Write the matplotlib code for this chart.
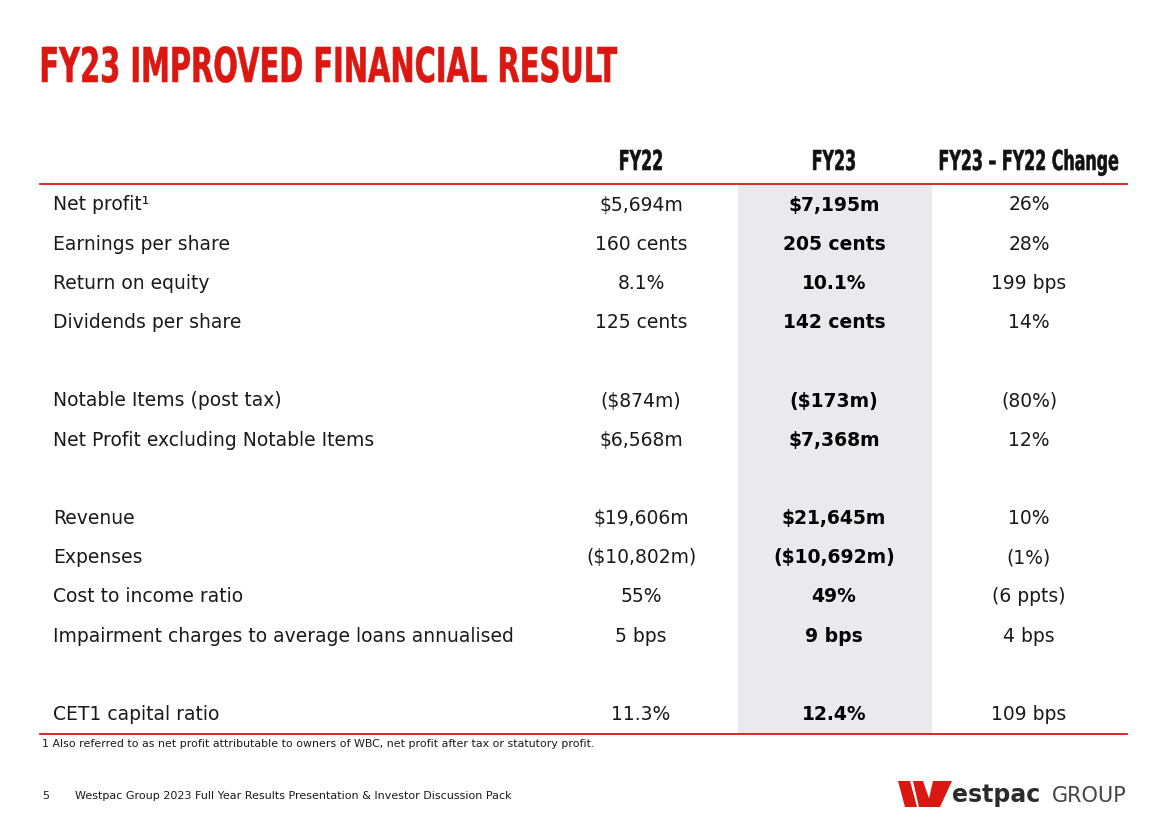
import matplotlib
matplotlib.use("Agg")
import matplotlib.pyplot as plt
from matplotlib.patches import Rectangle, Polygon, PathPatch
from matplotlib.textpath import TextPath
from matplotlib.font_manager import FontProperties
from matplotlib.transforms import Affine2D

RED = "#DA1710"
GREY_COL = "#E9E9EE"
TXT = "#1a1a1a"

title = "FY23 IMPROVED FINANCIAL RESULT"
headers = ["FY22", "FY23", "FY23 \u2013 FY22 Change"]

# "" rows are the spacer rows in the table
metrics = ["Net profit\u00b9", "Earnings per share", "Return on equity", "Dividends per share", "",
           "Notable Items (post tax)", "Net Profit excluding Notable Items", "",
           "Revenue", "Expenses", "Cost to income ratio",
           "Impairment charges to average loans annualised", "",
           "CET1 capital ratio"]
fy22 = ["$5,694m", "160 cents", "8.1%", "125 cents", "",
        "($874m)", "$6,568m", "",
        "$19,606m", "($10,802m)", "55%", "5 bps", "",
        "11.3%"]
fy23 = ["$7,195m", "205 cents", "10.1%", "142 cents", "",
        "($173m)", "$7,368m", "",
        "$21,645m", "($10,692m)", "49%", "9 bps", "",
        "12.4%"]
change = ["26%", "28%", "199 bps", "14%", "",
          "(80%)", "12%", "",
          "10%", "(1%)", "(6 ppts)", "4 bps", "",
          "109 bps"]

footnote = "1 Also referred to as net profit attributable to owners of WBC, net profit after tax or statutory profit."
page_no = "5"
footer = "Westpac Group 2023 Full Year Results Presentation & Investor Discussion Pack"

body = ["DejaVu Sans"]
heavy = FontProperties(family="DejaVu Sans", weight="bold")
CAP = TextPath((0, 0), "H", size=1, prop=heavy).get_extents().height


def condensed(ax, s, x, baseline, cap_px, squeeze, color, ha="left"):
    # no condensed face installed, so squash a bold outline sideways
    tp = TextPath((0, 0), s, size=1, prop=heavy)
    ext = tp.get_extents()
    sy = cap_px / CAP
    sx = sy * squeeze
    w = ext.width * sx
    x0 = x - w / 2 if ha == "center" else x
    tr = Affine2D().translate(-ext.x0, 0).scale(sx, -sy).translate(x0, baseline)
    ax.add_patch(PathPatch(tp, transform=tr + ax.transData, facecolor=color,
                           edgecolor=color, lw=0.4))


fig = plt.figure(figsize=(11.68, 8.25), dpi=100)
ax = fig.add_axes([0, 0, 1, 1])
ax.set_xlim(0, 1168)
ax.set_ylim(825, 0)
ax.axis("off")

# title: squeeze so that it spans about 42..617 px
tp = TextPath((0, 0), title, size=1, prop=heavy)
squeeze = 575 / (tp.get_extents().width * 35 / CAP)
condensed(ax, title, 42, 82, 35, squeeze, RED)

# column layout
col_x = [641, 834, 1029]
row_y0, row_h = 205, 39.2
top_line, bottom_line = 184, 734

ax.add_patch(Rectangle((738, top_line), 194, bottom_line - top_line,
                       facecolor=GREY_COL, edgecolor="none", zorder=0))

for x, h in zip(col_x, headers):
    condensed(ax, h, x, 170, 20, squeeze * 0.96, "#111111", ha="center")

ax.plot([40, 1127], [top_line, top_line], color=RED, lw=1.3)
ax.plot([40, 1127], [bottom_line, bottom_line], color=RED, lw=1.3)

fs = 13.5
for i, (m, a, b, c) in enumerate(zip(metrics, fy22, fy23, change)):
    y = row_y0 + i * row_h
    if not m:
        continue
    ax.text(53, y, m, fontsize=fs, family=body, color=TXT, ha="left", va="center")
    ax.text(col_x[0], y, a, fontsize=fs, family=body, color=TXT, ha="center", va="center")
    ax.text(col_x[1], y, b, fontsize=fs, family=body, color="black", fontweight="bold",
            ha="center", va="center")
    ax.text(col_x[2], y, c, fontsize=fs, family=body, color=TXT, ha="center", va="center")

ax.text(42, 744, footnote, fontsize=7.9, family=body, color=TXT, ha="left", va="center")
ax.text(42, 796, page_no, fontsize=8, family=body, color=TXT, ha="left", va="center")
ax.text(75, 796, footer, fontsize=8, family=body, color=TXT, ha="left", va="center")

# logo
for pts in ([(898, 781), (910, 781), (917, 807), (905, 807)],
            [(913, 781), (923, 781), (932, 807), (919, 807)],
            [(933, 781), (952, 781), (940, 807), (927, 807)]):
    ax.add_patch(Polygon(pts, closed=True, facecolor=RED, edgecolor="none"))
ax.text(952, 795, "estpac", fontsize=17, fontweight="bold", family=body, color="#2b2b2b",
        ha="left", va="center")
ax.text(1052, 796, "GROUP", fontsize=15, family=body, color="#444444",
        ha="left", va="center")

fig.savefig("out.png", dpi=100, facecolor="white")
